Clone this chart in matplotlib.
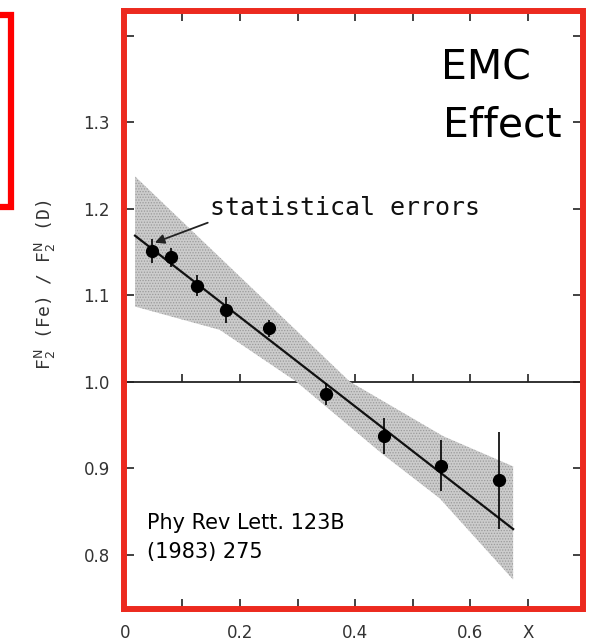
import numpy as np
import matplotlib
matplotlib.use("Agg")
import matplotlib.pyplot as plt
from matplotlib.patches import Rectangle, Polygon

# measured points (x, F2(Fe)/F2(D)) and statistical errors
x_pts = [0.047, 0.08, 0.125, 0.175, 0.25, 0.35, 0.45, 0.55, 0.65]
ratio = [1.151, 1.144, 1.111, 1.0825, 1.062, 0.986, 0.9375, 0.903, 0.886]
stat_err = [0.014, 0.011, 0.012, 0.015, 0.010, 0.013, 0.021, 0.029, 0.056]

# straight-line fit
fit_x = [0.0177, 0.6745]
fit_y = [1.169, 0.8295]

# systematic error band
band_up_x = [0.0177, 0.391, 0.553, 0.6745]
band_up_y = [1.2376, 1.0, 0.937, 0.902]
band_lo_x = [0.0177, 0.165, 0.298, 0.449, 0.547, 0.6745]
band_lo_y = [1.087, 1.060, 1.0, 0.9155, 0.865, 0.771]

xtick_pos = [0.0, 0.1, 0.2, 0.3, 0.4, 0.5, 0.6, 0.7]
xtick_lab = ["0", "", "0.2", "", "0.4", "", "0.6", "X"]
ytick_pos = [0.8, 0.9, 1.0, 1.1, 1.2, 1.3, 1.4]
ytick_lab = ["0.8", "0.9", "1.0", "1.1", "1.2", "1.3", ""]

fig = plt.figure(figsize=(5.92, 6.41), dpi=100)
ax = fig.add_axes([123.7 / 592, 1 - 609 / 641, (582.5 - 123.7) / 592, (609 - 11) / 641])
ax.set_xlim(-0.002, 0.795)
ax.set_ylim(0.737, 1.429)

# reference line at 1 with its small ticks
ax.axhline(1.0, color="#222222", lw=1.3, zorder=1)
ax.vlines(xtick_pos[1:], 1.0, 1.009, color="#222222", lw=1.2, zorder=1)

plt.rcParams["hatch.linewidth"] = 0.6
band = Polygon(list(zip(band_up_x, band_up_y)) + list(zip(band_lo_x, band_lo_y))[::-1],
               closed=True, facecolor="#cccccc", edgecolor="#9a9a9a", hatch="......",
               lw=0, zorder=2)
ax.add_patch(band)

ax.plot(fit_x, fit_y, color="#111111", lw=1.6, zorder=3)
ax.errorbar(x_pts, ratio, yerr=stat_err, fmt="o", color="black", ms=8.5,
            elinewidth=1.2, capsize=0, zorder=4)

ax.annotate("", xy=(0.052, 1.161), xytext=(0.144, 1.184),
            arrowprops=dict(arrowstyle="-|>", color="#222222", lw=1.3,
                            mutation_scale=14, shrinkA=0, shrinkB=0), zorder=5)
ax.text(0.148, 1.193, "statistical errors", fontsize=18, family="DejaVu Sans Mono",
        color="#111111", va="baseline", ha="left")

ax.text(0.55, 1.3495, "EMC", fontsize=29.5, family="DejaVu Sans", va="baseline", ha="left")
ax.text(0.552, 1.2836, "Effect", fontsize=29.5, family="DejaVu Sans", va="baseline", ha="left")
ax.text(0.038, 0.830, "Phy Rev Lett. 123B", fontsize=15, family="DejaVu Sans",
        va="baseline", ha="left")
ax.text(0.038, 0.796, "(1983) 275", fontsize=15, family="DejaVu Sans",
        va="baseline", ha="left")

ax.set_xticks(xtick_pos)
ax.set_xticklabels(xtick_lab)
ax.set_yticks(ytick_pos)
ax.set_yticklabels(ytick_lab)
ax.tick_params(direction="in", length=7, width=1.2, color="#222222",
               top=True, right=True, labelsize=12, labelcolor="#333333")
ax.tick_params(axis="y", pad=10)
ax.tick_params(axis="x", pad=11)

for s in ax.spines.values():
    s.set_color("#ec2a1f")
    s.set_linewidth(4.3)
    s.set_zorder(6)

fig.text(45 / 592, 1 - 285 / 641, r"F$_2^\mathrm{N}$ (Fe) / F$_2^\mathrm{N}$ (D)",
         rotation=90, fontsize=13, family="DejaVu Sans Mono", color="#333333",
         ha="center", va="center")

# red box at the left edge
fig.add_artist(Rectangle((-0.05, 1 - 207 / 641), 0.05 + 11 / 592, (207 - 15) / 641,
                         transform=fig.transFigure, fill=False, edgecolor="#ff0000",
                         lw=4.5, clip_on=False))

fig.savefig("out.png", dpi=100)
